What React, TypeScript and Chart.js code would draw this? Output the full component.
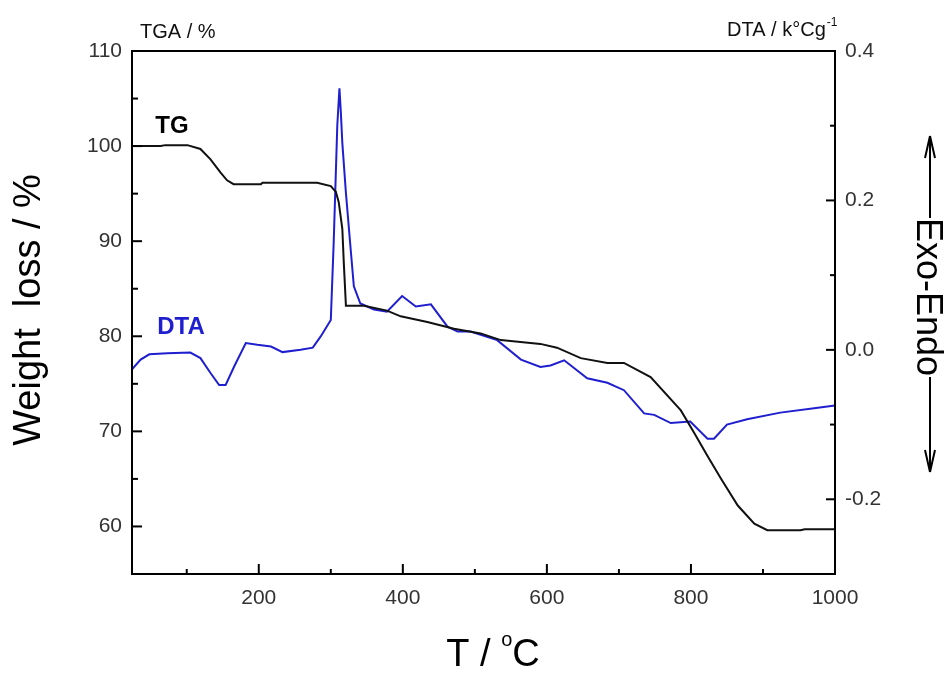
import React, { useEffect, useRef } from 'react';
import { Chart, registerables } from 'chart.js';

Chart.register(...registerables);

// ---- data ----
const TG_T = [24, 64, 70, 101, 119, 133, 147, 156, 165, 203, 205, 281, 300, 307, 311, 316, 318, 321, 346, 378, 397, 434, 471, 508, 536, 591, 614, 647, 684, 707, 744, 786, 804, 823, 842, 865, 888, 906, 952, 958, 1000];
const TG_W = [100.0, 100.0, 100.1, 100.1, 99.7, 98.6, 97.2, 96.4, 96.0, 96.0, 96.15, 96.15, 95.8, 95.2, 94.1, 91.3, 87.8, 83.2, 83.2, 82.7, 82.1, 81.5, 80.8, 80.3, 79.6, 79.2, 78.8, 77.7, 77.2, 77.2, 75.7, 72.2, 69.9, 67.4, 65.0, 62.2, 60.3, 59.6, 59.6, 59.7, 59.7];

const DTA_T = [24, 36, 48, 73, 105, 119, 133, 145, 154, 166, 182, 198, 217, 233, 258, 275, 286, 300, 304, 309, 312, 314, 316, 321, 328, 332, 341, 360, 378, 399, 418, 439, 462, 476, 494, 531, 564, 591, 605, 624, 656, 684, 707, 735, 749, 772, 799, 823, 832, 850, 878, 924, 971, 1000];
const DTA_V = [-0.026, -0.013, -0.006, -0.0045, -0.0036, -0.011, -0.031, -0.047, -0.047, -0.022, 0.009, 0.0067, 0.0045, -0.003, 0.0, 0.003, 0.018, 0.040, 0.143, 0.30, 0.35, 0.317, 0.277, 0.21, 0.13, 0.085, 0.062, 0.054, 0.051, 0.072, 0.058, 0.061, 0.031, 0.0245, 0.0245, 0.013, -0.013, -0.023, -0.021, -0.014, -0.038, -0.044, -0.054, -0.085, -0.087, -0.098, -0.096, -0.119, -0.119, -0.100, -0.093, -0.084, -0.078, -0.0745];

const X_TICKS = [200, 400, 600, 800, 1000];
const X_MINOR = [100, 300, 500, 700, 900];
const L_TICKS = [60, 70, 80, 90, 100, 110];
const L_MINOR = [65, 75, 85, 95, 105];
const R_TICKS = [-0.2, 0, 0.2, 0.4];
const R_MINOR = [-0.3, -0.1, 0.1, 0.3];

const SANS = '"Liberation Sans", Arial, sans-serif';
const NARROW = '"Liberation Sans Narrow", "Arial Narrow", "Liberation Sans", Arial, sans-serif';
const BLUE = '#1f1fd0';

const decor = {
  id: 'decor',
  afterDraw(chart: any) {
    const { ctx, chartArea: a, scales } = chart;
    const x = scales.x, yl = scales.y, yr = scales.y1;
    ctx.save();
    ctx.strokeStyle = '#000';
    ctx.lineWidth = 2;
    ctx.strokeRect(a.left, a.top, a.right - a.left, a.bottom - a.top);
    const line = (x1: number, y1: number, x2: number, y2: number) => {
      ctx.beginPath(); ctx.moveTo(x1, y1); ctx.lineTo(x2, y2); ctx.stroke();
    };
    X_TICKS.forEach(v => { const p = x.getPixelForValue(v); line(p, a.bottom, p, a.bottom - 10); });
    X_MINOR.forEach(v => { const p = x.getPixelForValue(v); line(p, a.bottom, p, a.bottom - 5); });
    L_TICKS.forEach(v => { const p = yl.getPixelForValue(v); line(a.left, p, a.left + 10, p); });
    L_MINOR.forEach(v => { const p = yl.getPixelForValue(v); line(a.left, p, a.left + 6, p); });
    R_TICKS.forEach(v => { const p = yr.getPixelForValue(v); line(a.right, p, a.right - 9, p); });
    R_MINOR.forEach(v => { const p = yr.getPixelForValue(v); line(a.right, p, a.right - 5, p); });

    ctx.fillStyle = '#000';
    // left axis title
    ctx.save();
    ctx.translate(30, 310);
    ctx.rotate(-Math.PI / 2);
    ctx.font = `38px ${SANS}`;
    ctx.textAlign = 'center';
    ctx.textBaseline = 'middle';
    ctx.fillText('Weight  loss / %', 0, 0);
    ctx.restore();

    // bottom axis title: T / °C
    ctx.textBaseline = 'alphabetic';
    ctx.textAlign = 'left';
    const big = `38px ${SANS}`, small = `20px ${SANS}`;
    ctx.font = big; const w1 = ctx.measureText('T / ').width; const w3 = ctx.measureText('C').width;
    ctx.font = small; const w2 = ctx.measureText('o').width;
    let sx = 493 - (w1 + w2 + w3) / 2;
    ctx.font = big; ctx.fillText('T / ', sx, 666); sx += w1;
    ctx.font = small; ctx.fillText('o', sx, 646); sx += w2;
    ctx.font = big; ctx.fillText('C', sx, 666);

    // right title Exo-Endo with arrows
    ctx.save();
    ctx.translate(927, 297);
    ctx.rotate(Math.PI / 2);
    ctx.font = `36px ${SANS}`;
    ctx.textAlign = 'center';
    ctx.textBaseline = 'middle';
    ctx.fillText('Exo-Endo', 0, 0);
    ctx.restore();
    ctx.lineWidth = 2;
    line(930, 218, 930, 136);
    line(930, 136, 925, 158); line(930, 136, 935, 158);
    line(930, 377, 930, 472);
    line(930, 472, 925, 450); line(930, 472, 935, 450);

    // top labels
    ctx.fillStyle = '#111';
    ctx.font = `20px ${NARROW}`;
    ctx.textAlign = 'left';
    ctx.fillText('TGA / %', 140, 38);
    const dtaMain = 'DTA / k°Cg';
    const dw = ctx.measureText(dtaMain).width;
    ctx.fillText(dtaMain, 727, 36);
    ctx.font = `12px ${NARROW}`;
    ctx.fillText('-1', 727 + dw + 1, 26);

    // in-plot labels
    ctx.font = `bold 24px ${SANS}`;
    ctx.textAlign = 'center';
    ctx.textBaseline = 'middle';
    ctx.fillStyle = '#000';
    ctx.fillText('TG', 172, 126);
    ctx.fillStyle = BLUE;
    ctx.fillText('DTA', 181, 327);
    ctx.restore();
  },
};

export default function App() {
  const ref = useRef<HTMLCanvasElement | null>(null);
  useEffect(() => {
    if (!ref.current) return;
    const tickFont = { family: NARROW, size: 21 };
    const chart = new Chart(ref.current, {
      type: 'line',
      data: {
        datasets: [
          {
            label: 'TG',
            data: TG_T.map((t, i) => ({ x: t, y: TG_W[i] })),
            borderColor: '#111',
            borderWidth: 2,
            pointRadius: 0,
            tension: 0,
            yAxisID: 'y',
          },
          {
            label: 'DTA',
            data: DTA_T.map((t, i) => ({ x: t, y: DTA_V[i] })),
            borderColor: BLUE,
            borderWidth: 2,
            pointRadius: 0,
            tension: 0,
            yAxisID: 'y1',
          },
        ],
      },
      options: {
        responsive: false,
        animation: false,
        layout: { padding: { top: 51, left: 0, right: 0, bottom: 0 } },
        plugins: { legend: { display: false }, tooltip: { enabled: false } },
        scales: {
          x: {
            type: 'linear',
            min: 24,
            max: 1000,
            grid: { display: false, drawTicks: false },
            border: { display: false },
            afterBuildTicks: (s: any) => { s.ticks = X_TICKS.map(v => ({ value: v })); },
            afterFit: (s: any) => { s.height = 101; },
            ticks: {
              font: tickFont,
              color: '#333',
              padding: 12,
              autoSkip: false,
              maxRotation: 0,
              callback: (v: any) => String(v),
            },
          },
          y: {
            type: 'linear',
            position: 'left',
            min: 55,
            max: 110,
            grid: { display: false, drawTicks: false },
            border: { display: false },
            afterBuildTicks: (s: any) => { s.ticks = L_TICKS.map(v => ({ value: v })); },
            afterFit: (s: any) => { s.width = 132; },
            ticks: { font: tickFont, color: '#333', padding: 10, autoSkip: false, callback: (v: any) => String(v) },
          },
          y1: {
            type: 'linear',
            position: 'right',
            min: -0.3,
            max: 0.4,
            grid: { display: false, drawTicks: false },
            border: { display: false },
            afterBuildTicks: (s: any) => { s.ticks = R_TICKS.map(v => ({ value: v })); },
            afterFit: (s: any) => { s.width = 115; },
            ticks: {
              font: tickFont,
              color: '#333',
              padding: 10,
              autoSkip: false,
              callback: (v: any) => Number(v).toFixed(1),
            },
          },
        },
      },
      plugins: [decor],
    });
    return () => chart.destroy();
  }, []);
  return (
    <div style={{ position: 'absolute', left: 0, top: 0, width: 950, height: 675, background: '#fff' }}>
      <canvas ref={ref} width={950} height={675} style={{ display: 'block' }} />
    </div>
  );
}
